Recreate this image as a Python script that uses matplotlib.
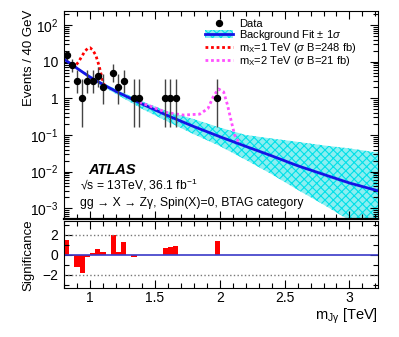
import numpy as np
import matplotlib.pyplot as plt
from matplotlib.patches import Patch
from matplotlib.lines import Line2D
from matplotlib.ticker import FixedLocator, MultipleLocator, NullFormatter, FixedFormatter

plt.rcParams['font.family'] = ['Liberation Sans', 'DejaVu Sans']
plt.rcParams['mathtext.fontset'] = 'custom'
plt.rcParams['mathtext.rm'] = 'Liberation Sans'
plt.rcParams['mathtext.it'] = 'Liberation Sans:italic'
plt.rcParams['mathtext.bf'] = 'Liberation Sans:bold'
plt.rcParams['hatch.linewidth'] = 0.8

## observed events (40 GeV bins), poisson errors
data_mass = [0.82, 0.86, 0.90, 0.94, 0.98, 1.02, 1.06, 1.10, 1.18, 1.22, 1.26, 1.34, 1.38, 1.58, 1.62, 1.66, 1.98]
data_events = [15, 8, 3, 1, 3, 3, 4, 2, 5, 2, 3, 1, 1, 1, 1, 1, 1]
err_lo = [3.83, 2.76, 1.63, 0.83, 1.63, 1.63, 1.91, 1.29, 2.16, 1.29, 1.63, 0.83, 0.83, 0.83, 0.83, 0.83, 0.83]
err_hi = [4.95, 3.94, 2.92, 2.30, 2.92, 2.92, 3.16, 2.64, 3.38, 2.64, 2.92, 2.30, 2.30, 2.30, 2.30, 2.30, 2.30]

## background fit and its 1 sigma band
fit_mass = [0.80, 0.90, 1.00, 1.10, 1.20, 1.40, 1.60, 1.80, 2.00, 2.20, 2.40, 2.60, 2.80, 3.00, 3.22]
fit_val = [11.8, 6.6, 3.8, 2.4, 1.55, 0.705, 0.336, 0.17, 0.09, 0.049, 0.027, 0.0145, 0.0084, 0.0049, 0.003]
band_hi = [12.6, 7.1, 4.2, 2.65, 1.75, 0.83, 0.44, 0.27, 0.16, 0.10, 0.080, 0.065, 0.052, 0.043, 0.033]
band_lo = [11.0, 6.2, 3.45, 2.1, 1.32, 0.52, 0.23, 0.105, 0.05, 0.021, 0.0085, 0.0032, 0.00126, 0.00047, 0.00016]

## signal + background
sig1_mass = [0.86, 0.885, 0.91, 0.935, 0.96, 0.985, 1.00, 1.02, 1.045, 1.07, 1.09, 1.11]
sig1_val = [8.3, 7.6, 9.6, 13.5, 19.0, 23.5, 24.0, 21.0, 15.0, 7.8, 3.9, 2.3]
sig2_mass = [1.38, 1.46, 1.59, 1.72, 1.846, 1.91, 1.95, 1.99, 2.03, 2.06, 2.09, 2.115, 2.154]
sig2_val = [0.78, 0.62, 0.41, 0.35, 0.37, 0.53, 1.1, 1.8, 1.5, 0.66, 0.23, 0.10, 0.057]

## significance per bin
signif_mass = [0.82, 0.86, 0.90, 0.94, 0.98, 1.02, 1.06, 1.10, 1.18, 1.22, 1.26, 1.34, 1.58, 1.62, 1.66, 1.98]
signif_val = [1.5, -0.05, -1.17, -1.77, -0.23, 0.2, 0.57, 0.33, 2.0, 0.33, 1.27, -0.15, 0.67, 0.77, 0.87, 1.43]

W, H = 399, 337
fig = plt.figure(figsize=(W / 100, H / 100), dpi=100)
ax = fig.add_axes([64 / W, 1 - 219 / H, 314 / W, 208 / H])
ax2 = fig.add_axes([64 / W, 1 - 288 / H, 314 / W, 67 / H], sharex=ax)

cyan = '#00e0e8'
blue = '#1414e6'
band_face = '#8ceef0'
ax.fill_between(fit_mass, band_lo, band_hi, facecolor=band_face, edgecolor=cyan, hatch='xxxx', linewidth=0)
ax.plot(fit_mass, fit_val, color=blue, lw=2)
ax.plot(sig1_mass, sig1_val, color='red', ls=(0, (1, 1)), lw=2)
ax.plot(sig2_mass, sig2_val, color='#ff50ff', ls=(0, (1, 1)), lw=2)
ax.errorbar(data_mass, data_events, yerr=[err_lo, err_hi], fmt='o', color='k', ms=4.3,
            ecolor='#444444', elinewidth=1, capsize=0)

ax.set_yscale('log')
ax.set_xlim(0.8, 3.22)
ax.set_ylim(5.1e-4, 241)
ax.yaxis.set_major_locator(FixedLocator([1e-3, 1e-2, 1e-1, 1, 10, 100]))
ax.yaxis.set_major_formatter(FixedFormatter(['$10^{-3}$', '$10^{-2}$', '$10^{-1}$', '1', '10', '$10^{2}$']))
ax.yaxis.set_minor_locator(FixedLocator([m * 10.0 ** e for e in range(-4, 3) for m in range(2, 10)]))
ax.yaxis.set_minor_formatter(NullFormatter())
ax.xaxis.set_major_locator(MultipleLocator(0.5))
ax.xaxis.set_minor_locator(MultipleLocator(0.1))
ax.tick_params(axis='x', labelbottom=False)
for a in (ax, ax2):
    a.tick_params(which='both', direction='in', top=True, right=True, labelsize=10, pad=4)
    a.tick_params(which='major', length=6, width=0.8)
    a.tick_params(which='minor', length=3.5, width=0.8)
ax2.tick_params(axis='x', pad=2.5)
ax.spines['bottom'].set_linewidth(1.6)

leg_handles = [
    Line2D([], [], marker='o', color='k', ls='none', ms=4.3),
    (Patch(facecolor=band_face, edgecolor=cyan, hatch='xxxx', linewidth=0), Line2D([], [], color=blue, lw=2)),
    Line2D([], [], color='red', ls=(0, (1, 1)), lw=2),
    Line2D([], [], color='#ff50ff', ls=(0, (1, 1)), lw=2),
]
leg_labels = ['Data', r'Background Fit $\pm$ 1$\sigma$',
              r'm$_{\mathregular{X}}$=1 TeV ($\sigma$ B=248 fb)',
              r'm$_{\mathregular{X}}$=2 TeV ($\sigma$ B=21 fb)']
ax.legend(leg_handles, leg_labels, loc='upper left', bbox_to_anchor=(0.449, 0.963), frameon=False,
          fontsize=8, borderpad=0, handlelength=2.5, handletextpad=0.55, labelspacing=-0.08,
          borderaxespad=0)

ax.text(0.076, 0.236, 'ATLAS', transform=ax.transAxes, fontsize=10.5, fontweight='bold',
        fontstyle='italic', va='center')
ax.text(0.051, 0.165, '√s = 13TeV, 36.1 fb$^{\\mathregular{-1}}$', transform=ax.transAxes,
        fontsize=8.7, va='center')
ax.text(0.051, 0.077, 'gg → X → Zγ, Spin(X)=0, BTAG category', transform=ax.transAxes,
        fontsize=8.7, va='center')

ax2.bar(signif_mass, signif_val, width=0.04, color='red', edgecolor='none')
ax2.axhline(0, color='#3a3ac8', lw=1.2)
ax2.axhline(2, color='#777777', ls=':', lw=1)
ax2.axhline(-2, color='#777777', ls=':', lw=1)
ax2.set_ylim(-3.3, 3.4)
ax2.yaxis.set_major_locator(FixedLocator([-2, 0, 2]))
ax2.yaxis.set_major_formatter(FixedFormatter(['\u22122', '0', '2']))
ax2.yaxis.set_minor_locator(FixedLocator([-3, -1, 1, 3]))
ax2.xaxis.set_major_formatter(FixedFormatter(['0.5', '1', '1.5', '2', '2.5', '3']))
ax2.xaxis.set_major_locator(FixedLocator([0.5, 1, 1.5, 2, 2.5, 3]))

fig.text(29.5 / W, 1 - 10 / H, 'Events / 40 GeV', rotation=90, ha='center', va='top', fontsize=9.5)
fig.text(28 / W, 1 - 255 / H, 'Significance', rotation=90, ha='center', va='center', fontsize=9.5)
fig.text(378 / W, 1 - 316 / H, 'm$_{\\mathregular{Jγ}}$ [TeV]', ha='right', va='center', fontsize=10.5)

fig.savefig('out.png', dpi=100)
